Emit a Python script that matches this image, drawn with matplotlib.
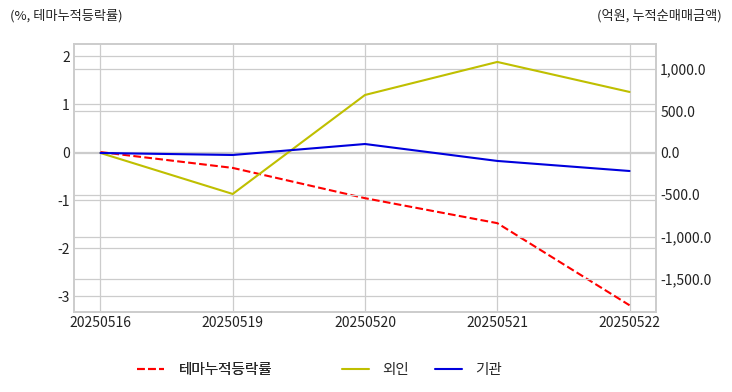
import numpy as np
import matplotlib.pyplot as plt
from matplotlib.ticker import FuncFormatter

# data
dates = ['20250516', '20250519', '20250520', '20250521', '20250522']
theme_rate = [0.0, -0.33, -0.96, -1.48, -3.19]      # %
foreign = [0.0, -489.0, 692.0, 1086.0, 728.0]       # 억원
institution = [0.0, -24.0, 107.0, -95.0, -215.0]    # 억원

plt.style.use('seaborn-v0_8-whitegrid')
plt.rcParams['font.family'] = ['Noto Sans CJK KR', 'DejaVu Sans']
plt.rcParams['axes.unicode_minus'] = False

fig = plt.figure(figsize=(7.32, 3.92), dpi=100)
ax = fig.add_axes([74 / 732, 1 - 312 / 392, 582 / 732, 268 / 392])
ax2 = ax.twinx()

x = np.arange(len(dates))
l1, = ax.plot(x, theme_rate, color='red', linestyle='--', linewidth=1.5, label='테마누적등락률')
l2, = ax2.plot(x, foreign, color='#bfbf00', linewidth=1.5, label='외인')
l3, = ax2.plot(x, institution, color='#0000dd', linewidth=1.5, label='기관')

ax.set_xlim(-0.2, 4.2)
ax.set_ylim(-3.33, 2.25)
ax2.set_ylim(-1897, 1300)
ax.set_xticks(x)
ax.set_xticklabels(dates)
ax.set_yticks([-3, -2, -1, 0, 1, 2])
ax2.set_yticks([-1500, -1000, -500, 0, 500, 1000])
ax2.yaxis.set_major_formatter(FuncFormatter(lambda v, p: f'{v:,.1f}'))

for a in (ax, ax2):
    a.tick_params(labelsize=10, colors='#222222', pad=3)
    a.grid(True, color='#cccccc', linewidth=0.9)
    for s in a.spines.values():
        s.set_visible(True)
        s.set_color('#cccccc')
        s.set_linewidth(1.2)
ax2.grid(True, axis='y', color='#cccccc', linewidth=0.9)
ax2.grid(False, axis='x')

fig.text(10 / 732, 1 - 16 / 392, '(%, 테마누적등락률)', fontsize=9.5, va='center', ha='left', color='#222222')
fig.text(722 / 732, 1 - 16 / 392, '(억원, 누적순매매금액)', fontsize=9.5, va='center', ha='right', color='#222222')

# legend below the plot: theme line on its own, then the two investor lines
leg_y = 1 - 370 / 392
leg1 = fig.legend(handles=[l1], loc='center left', bbox_to_anchor=(124 / 732, leg_y),
                  frameon=False, fontsize=10.5, handlelength=1.85, handletextpad=1.0)
fig.add_artist(leg1)
fig.legend(handles=[l2, l3], loc='center left', bbox_to_anchor=(329 / 732, leg_y), ncol=2,
           frameon=False, fontsize=10.5, handlelength=1.85, handletextpad=0.9, columnspacing=1.8)

fig.savefig('out.png', dpi=100)
